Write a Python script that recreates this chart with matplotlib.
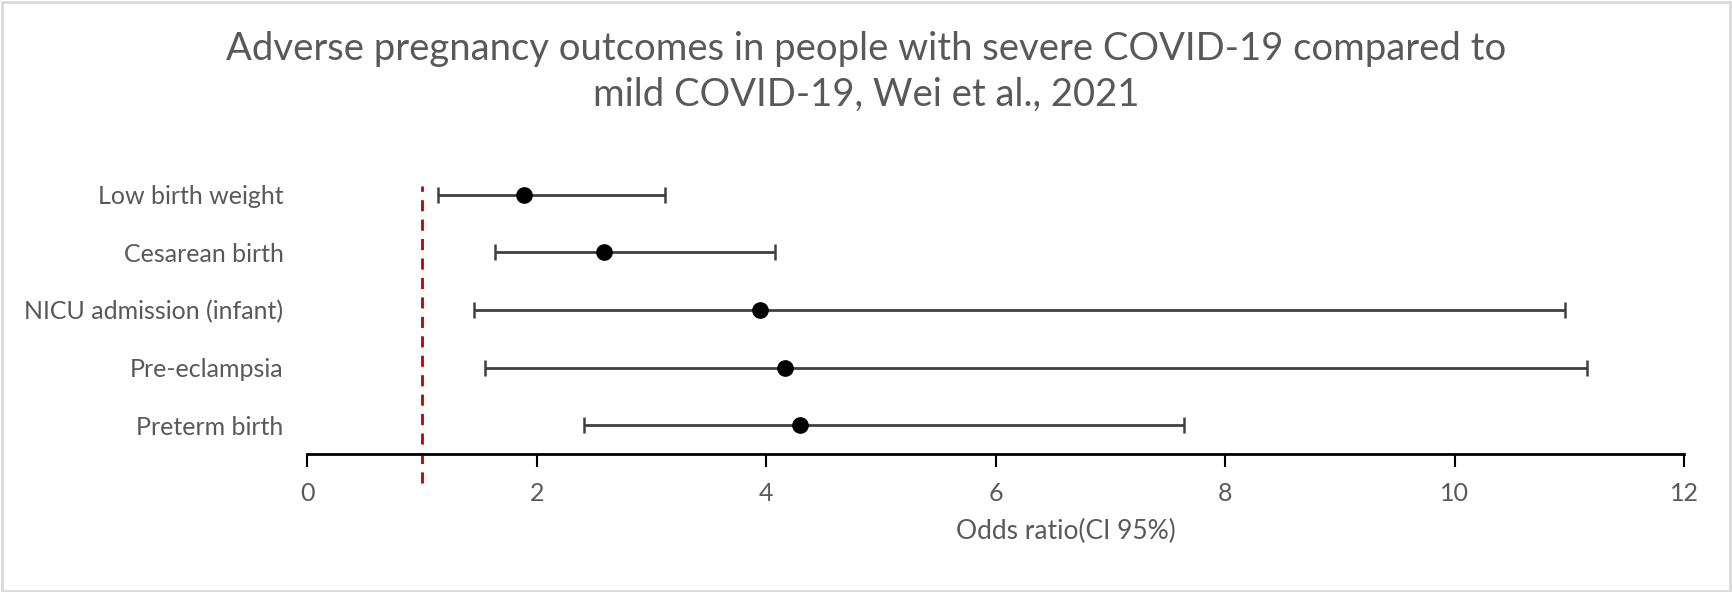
import matplotlib
matplotlib.use("Agg")
import matplotlib.pyplot as plt
from matplotlib.patches import Rectangle

categories = ["Low birth weight", "Cesarean birth", "NICU admission (infant)",
              "Pre-eclampsia", "Preterm birth"]
odds_ratio = [1.89, 2.59, 3.95, 4.16, 4.29]
ci_lower = [1.14, 1.64, 1.45, 1.55, 2.41]
ci_upper = [3.12, 4.08, 10.96, 11.15, 7.64]
xticks = [0, 2, 4, 6, 8, 10, 12]
ref_value = 1

title = "Adverse pregnancy outcomes in people with severe COVID-19 compared to\nmild COVID-19, Wei et al., 2021"
xlabel = "Odds ratio(CI 95%)"

plt.rcParams['font.family'] = ['Lato', 'DejaVu Sans']
text_color = "#595959"

fig = plt.figure(figsize=(17.33, 5.92), dpi=100)
ax = fig.add_axes([0.1772, 0.233, 0.972 - 0.1772, 0.7196 - 0.233])

n = len(categories)
ypos = [n - 0.5 - i for i in range(n)]
xerr = [[o - l for o, l in zip(odds_ratio, ci_lower)],
        [u - o for o, u in zip(odds_ratio, ci_upper)]]
ax.errorbar(odds_ratio, ypos, xerr=xerr, fmt='o', color='black',
            markersize=11, ecolor='#404040', elinewidth=2, capsize=6,
            capthick=1.8, zorder=3)

ax.plot([ref_value, ref_value], [-0.5, n - 0.35], color='#c00000',
        linestyle=(0, (4, 3)), linewidth=2, clip_on=False, zorder=2)

ax.set_xlim(0, 12)
ax.set_ylim(0, n)
ax.set_xticks(xticks)
ax.set_xticklabels([str(t) for t in xticks])
ax.set_yticks(ypos)
ax.set_yticklabels(categories)

for s in ['top', 'right', 'left']:
    ax.spines[s].set_visible(False)
ax.spines['bottom'].set_linewidth(2)
ax.spines['bottom'].set_color('black')
ax.tick_params(axis='x', direction='out', length=9, width=1.5, color='black',
               labelsize=18, labelcolor=text_color, pad=11)
ax.tick_params(axis='y', length=0, labelsize=18, labelcolor=text_color, pad=17)

ax.set_xlabel(xlabel, fontsize=19, color=text_color)
ax.xaxis.set_label_coords(0.551, -0.225)

fig.text(0.5, 0.878, title, ha='center', va='center', fontsize=27.5,
         color=text_color, linespacing=1.33)

fig.patches.append(Rectangle((0.001, 0.002), 0.997, 0.994, transform=fig.transFigure,
                             fill=False, edgecolor='#d9d9d9', linewidth=2))

fig.savefig("out.png", dpi=100)
